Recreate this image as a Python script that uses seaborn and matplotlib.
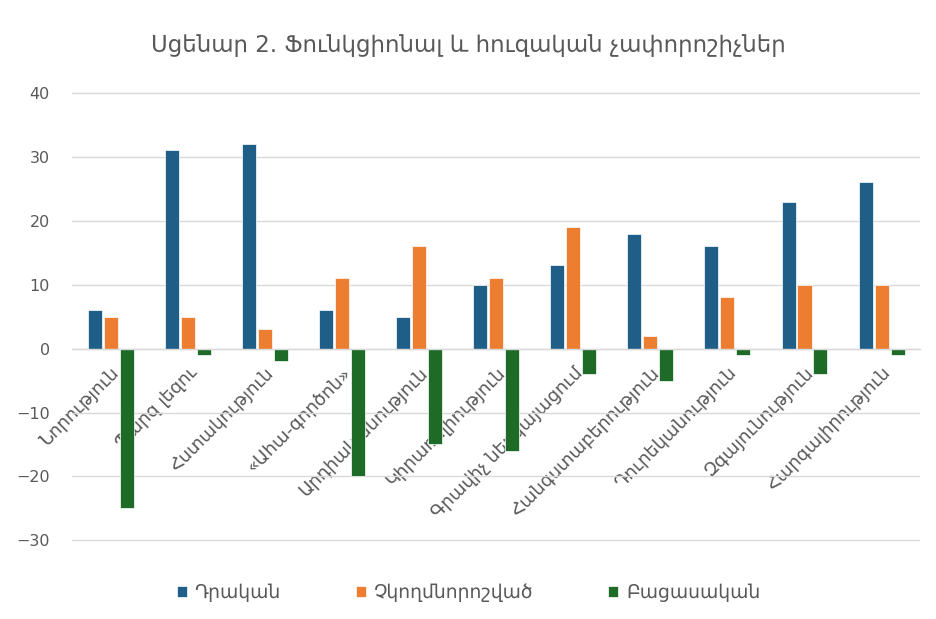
import matplotlib
matplotlib.use("Agg")
import matplotlib.pyplot as plt
import seaborn as sns
import pandas as pd

# chart data
categories = [
    "Նորություն", "Պարզ լեզու", "Հստակություն", "«Ահա-գործոն»",
    "Արդիականություն", "Կիրառելիություն", "Գրավիչ ներկայացում",
    "Հանգստաբերություն", "Դուրեկանություն", "Զգայունություն",
    "Հարգալիրություն",
]
series_names = ["Դրական", "Չկողմնորոշված", "Բացասական"]
positive = [6, 31, 32, 6, 5, 10, 13, 18, 16, 23, 26]
neutral = [5, 5, 3, 11, 16, 11, 19, 2, 8, 10, 10]
negative = [-25, -1, -2, -20, -15, -16, -4, -5, -1, -4, -1]
title = "Սցենար 2. Ֆունկցիոնալ և հուզական չափորոշիչներ"

colors = ["#1f5f87", "#ed7d31", "#1d6b26"]
text_color = "#595959"

df = pd.DataFrame({
    "category": categories * 3,
    "series": [series_names[0]] * len(categories)
    + [series_names[1]] * len(categories)
    + [series_names[2]] * len(categories),
    "value": positive + neutral + negative,
})

sns.set_theme(style="white")
plt.rcParams["font.family"] = ["DejaVu Sans"]

fig = plt.figure(figsize=(9.37, 6.19), dpi=100)
ax = fig.add_axes([0.077, 0.125, 0.905, 0.727])

sns.barplot(data=df, x="category", y="value", hue="series",
            order=categories, hue_order=series_names, palette=colors,
            saturation=1, width=0.62, gap=0.12, errorbar=None, ax=ax,
            legend=True, edgecolor="white", linewidth=0.5)

ax.set_ylim(-30.2, 40.2)
ax.set_yticks(range(-30, 41, 10))
ax.set_yticklabels([str(v).replace("-", "\u2212") for v in range(-30, 41, 10)])
ax.set_xlim(-0.5, len(categories) - 0.5)
ax.yaxis.grid(True, color="#d9d9d9", linewidth=1)
ax.set_axisbelow(True)
for side in ["top", "right", "left"]:
    ax.spines[side].set_visible(False)
ax.spines["bottom"].set_position(("data", 0))
ax.spines["bottom"].set_color("#d9d9d9")
ax.spines["bottom"].set_linewidth(1)
ax.set_xlabel("")
ax.set_ylabel("")

ax.tick_params(axis="y", length=0, pad=16, labelsize=11.5, labelcolor=text_color)
ax.tick_params(axis="x", length=0, pad=11, labelsize=13, labelcolor=text_color)
for lbl in ax.get_xticklabels():
    lbl.set_rotation(45)
    lbl.set_ha("right")
    lbl.set_va("top")
    lbl.set_rotation_mode("anchor")

fig.suptitle(title, y=0.945, fontsize=16.5, color=text_color)

handles, labels = ax.get_legend_handles_labels()
ax.get_legend().remove()
fig.legend(handles, labels, loc="center", bbox_to_anchor=(0.5, 0.043), ncol=3,
           frameon=False, fontsize=13.5, labelcolor=text_color,
           handlelength=0.55, handleheight=0.55, handletextpad=0.4,
           columnspacing=4.0)

fig.savefig("out.png", dpi=100)
